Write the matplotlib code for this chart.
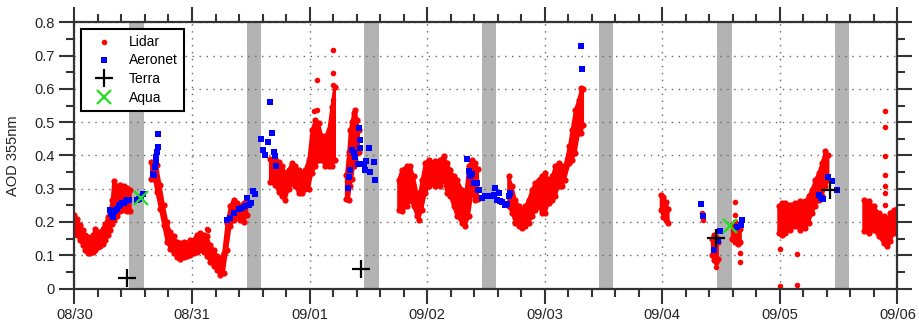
import numpy as np
import matplotlib.pyplot as plt
from matplotlib.ticker import MultipleLocator

plt.rcParams['font.family'] = ['Liberation Sans', 'DejaVu Sans']

nan = np.nan

# time in days since 08/30 00:00 UTC
day_labels = ['08/30', '08/31', '09/01', '09/02', '09/03', '09/04', '09/05', '09/06']
aod_ticks = [0, 0.1, 0.2, 0.3, 0.4, 0.5, 0.6, 0.7, 0.8]

# shaded periods (start, end) in days
shade_start = [0.465, 1.465, 2.465, 3.465, 4.465, 5.465, 6.465]
shade_end = [0.59, 1.59, 2.59, 3.585, 4.58, 5.59, 6.59]

# lidar AOD envelope (low / high of the retrievals), nan marks a gap
lidar_day = [0.0, 0.025, 0.049, 0.07, 0.092, 0.115, 0.134, 0.155, 0.177, 0.2, 0.219,
             0.24, 0.262, 0.285, 0.305, 0.32, 0.333, 0.361, 0.39, 0.418, 0.447, 0.475, nan,
             0.655, 0.68, 0.70, 0.73, 0.758, 0.787, 0.815, 0.843, 0.87, 0.9, 0.93, 0.957,
             0.985, 1.013, 1.04, 1.07, 1.1, 1.127, 1.155, 1.183, 1.212, 1.24, 1.268, 1.297,
             1.325, 1.354, 1.382, 1.41, 1.439, 1.467, nan,
             1.666, 1.708, 1.737, 1.765, 1.793, 1.822, 1.85, 1.878, 1.907, 1.935, 1.963,
             1.992, 2.02, 2.049, 2.077, 2.105, 2.134, 2.162, 2.19, 2.213, nan,
             2.312, 2.332, 2.346, 2.36, 2.374, 2.389, 2.403, 2.417, nan,
             2.757, 2.786, 2.828, 2.857, 2.885, 2.914, 2.927, 2.956, 2.984, 3.012, 3.041,
             3.069, 3.112, 3.14, 3.169, 3.197, 3.225, 3.254, 3.297, 3.325, 3.353, 3.381,
             3.41, 3.43, nan,
             3.693, 3.722, 3.75, 3.778, 3.807, 3.835, 3.863, 3.892, 3.92, 3.948, 3.977,
             4.005, 4.033, 4.062, 4.09, 4.118, 4.147, 4.17, 4.209, 4.232, 4.26, 4.289,
             4.312, 4.323, nan,
             4.99, 5.01, 5.03, 5.05, nan,
             5.425, 5.44, 5.455, 5.47, nan,
             5.595, 5.62, 5.645, 5.665, nan,
             5.99, 6.018, 6.047, 6.089, 6.132, 6.174, 6.217, 6.245, 6.273, 6.302, 6.33,
             6.358, 6.387, 6.41, nan,
             6.713, 6.755, 6.798, 6.84, 6.883, 6.911, 6.94, 6.968, 6.997]
lidar_lo = [0.17, 0.16, 0.145, 0.13, 0.115, 0.108, 0.107, 0.11, 0.117, 0.125, 0.127,
            0.135, 0.145, 0.16, 0.177, 0.195, 0.207, 0.217, 0.232, 0.237, 0.232, 0.232, nan,
            0.33, 0.33, 0.29, 0.24, 0.19, 0.14, 0.12, 0.107, 0.095, 0.09, 0.095, 0.097,
            0.1, 0.107, 0.11, 0.117, 0.11, 0.097, 0.08, 0.067, 0.057, 0.04, 0.047, 0.117,
            0.187, 0.207, 0.217, 0.207, 0.2, 0.22, nan,
            0.32, 0.31, 0.29, 0.277, 0.267, 0.30, 0.317, 0.307, 0.287, 0.287, 0.30,
            0.30, 0.347, 0.367, 0.387, 0.387, 0.367, 0.367, 0.367, 0.387, nan,
            0.27, 0.267, 0.307, 0.33, 0.367, 0.387, 0.407, 0.41, nan,
            0.237, 0.232, 0.247, 0.267, 0.247, 0.217, 0.207, 0.237, 0.287, 0.307, 0.317,
            0.307, 0.307, 0.327, 0.287, 0.277, 0.247, 0.217, 0.197, 0.187, 0.217, 0.287,
            0.267, 0.27, nan,
            0.247, 0.227, 0.197, 0.187, 0.182, 0.187, 0.197, 0.217, 0.237, 0.247, 0.227,
            0.227, 0.257, 0.267, 0.277, 0.307, 0.307, 0.327, 0.377, 0.387, 0.407, 0.467,
            0.467, 0.49, nan,
            0.235, 0.215, 0.205, 0.197, nan,
            0.10, 0.085, 0.08, 0.09, nan,
            0.15, 0.14, 0.135, 0.14, nan,
            0.167, 0.162, 0.167, 0.177, 0.187, 0.177, 0.182, 0.197, 0.227, 0.247, 0.267,
            0.277, 0.307, 0.327, nan,
            0.172, 0.167, 0.177, 0.157, 0.137, 0.127, 0.142, 0.167, 0.18]
lidar_hi = [0.22, 0.21, 0.19, 0.175, 0.16, 0.155, 0.152, 0.16, 0.178, 0.17, 0.168,
            0.18, 0.195, 0.215, 0.237, 0.265, 0.322, 0.307, 0.312, 0.307, 0.302, 0.297, nan,
            0.38, 0.38, 0.37, 0.31, 0.25, 0.20, 0.17, 0.157, 0.14, 0.137, 0.14, 0.137,
            0.145, 0.147, 0.16, 0.167, 0.16, 0.157, 0.13, 0.117, 0.097, 0.087, 0.107, 0.197,
            0.247, 0.267, 0.257, 0.247, 0.257, 0.257, nan,
            0.39, 0.39, 0.38, 0.367, 0.347, 0.357, 0.377, 0.367, 0.357, 0.347, 0.357,
            0.387, 0.477, 0.507, 0.497, 0.457, 0.457, 0.477, 0.547, 0.607, nan,
            0.34, 0.41, 0.477, 0.50, 0.527, 0.537, 0.507, 0.477, nan,
            0.327, 0.357, 0.367, 0.367, 0.337, 0.287, 0.267, 0.327, 0.377, 0.387, 0.377,
            0.382, 0.387, 0.397, 0.377, 0.357, 0.337, 0.327, 0.297, 0.277, 0.367, 0.387,
            0.377, 0.36, nan,
            0.337, 0.307, 0.267, 0.247, 0.237, 0.247, 0.267, 0.297, 0.317, 0.327, 0.337,
            0.347, 0.327, 0.337, 0.367, 0.377, 0.367, 0.367, 0.427, 0.477, 0.537, 0.567,
            0.602, 0.60, nan,
            0.282, 0.275, 0.26, 0.24, nan,
            0.15, 0.16, 0.155, 0.14, nan,
            0.19, 0.20, 0.19, 0.18, nan,
            0.247, 0.257, 0.257, 0.252, 0.257, 0.262, 0.262, 0.277, 0.297, 0.327, 0.347,
            0.377, 0.412, 0.40, nan,
            0.267, 0.262, 0.247, 0.227, 0.217, 0.207, 0.227, 0.237, 0.24]

# isolated lidar retrievals
lidar_pt_day = [1.13, 1.14, 2.04, 2.06, 2.063, 2.199, 2.2, 2.2, 2.2, 5.34, 5.35, 5.459,
                5.621, 5.621, 5.664, 5.664, 6.004, 6.004, 6.146, 6.146,
                6.897, 6.897, 6.897, 6.897, 6.897, 6.897, 6.897]
lidar_pt_aod = [0.18, 0.175, 0.535, 0.537, 0.627, 0.717, 0.647, 0.612, 0.567, 0.227, 0.205,
                0.065, 0.259, 0.222, 0.107, 0.079, 0.119, 0.007, 0.105, 0.01,
                0.535, 0.485, 0.399, 0.342, 0.307, 0.287, 0.252]

aeronet_day = [0.30, 0.31, 0.325, 0.345, 0.36, 0.375, 0.39, 0.405, 0.42, 0.435, 0.45, 0.465,
               0.535, 0.55, 0.565, 0.58, 0.665, 0.675, 0.685, 0.69, 0.695, 0.705, 0.71, 0.71,
               1.297, 1.325, 1.354, 1.396, 1.424, 1.453, 1.467, 1.481, 1.504, 1.518, 1.538,
               1.589, 1.6, 1.623, 1.646, 1.666, 1.68, 1.694, 1.708, 1.714,
               2.323, 2.332, 2.346, 2.36, 2.374, 2.389, 2.409, 2.417, 2.431, 2.431, 2.46,
               2.474, 2.482, 2.502, 2.516, 2.55, 2.559,
               3.339, 3.353, 3.367, 3.381, 3.395, 3.424, 3.43, 3.438, 3.466, 3.495, 3.523,
               3.552, 3.566, 3.58, 3.594, 3.608, 3.623, 3.637, 3.659, 3.68, 3.693, 3.707,
               4.312, 4.317,
               5.329, 5.343, 5.437, 5.471, 5.494, 5.636, 5.67, 5.678,
               6.33, 6.353, 6.37, 6.41, 6.444, 6.485]
aeronet_aod = [0.235, 0.225, 0.215, 0.232, 0.24, 0.248, 0.252, 0.256, 0.258, 0.262, 0.265, 0.267,
               0.265, 0.27, 0.275, 0.285, 0.345, 0.34, 0.365, 0.38, 0.395, 0.41, 0.425, 0.465,
               0.207, 0.212, 0.227, 0.239, 0.242, 0.247, 0.272, 0.252, 0.257, 0.294, 0.285,
               0.45, 0.417, 0.402, 0.44, 0.56, 0.467, 0.409, 0.397, 0.367,
               0.302, 0.335, 0.355, 0.415, 0.407, 0.395, 0.375, 0.482, 0.445, 0.421, 0.375,
               0.355, 0.382, 0.422, 0.349, 0.38, 0.325,
               0.389, 0.352, 0.337, 0.345, 0.317, 0.317, 0.295, 0.297, 0.272, 0.277, 0.279,
               0.277, 0.282, 0.302, 0.267, 0.287, 0.262, 0.26, 0.252, 0.255, 0.277, 0.287,
               0.729, 0.659,
               0.255, 0.219, 0.115, 0.142, 0.172, 0.185, 0.19, 0.205,
               0.282, 0.272, 0.269, 0.335, 0.324, 0.297]

terra_day = [0.447, 2.437, 5.459, 6.43]
terra_aod = [0.032, 0.059, 0.152, 0.297]

aqua_day = [0.566, 5.573]
aqua_aod = [0.272, 0.189]

fig = plt.figure(figsize=(9.19, 3.32), dpi=100)
ax = fig.add_axes([0.081, 0.131, 0.8955, 0.8017])

for s, e in zip(shade_start, shade_end):
    ax.axvspan(s, e, color='#b3b3b3', lw=0, zorder=1)

d = np.array(lidar_day)
lo = np.array(lidar_lo)
hi = np.array(lidar_hi)
ax.fill_between(d, lo, hi, facecolor='red', edgecolor='red', lw=2, zorder=2)
# dots along the band edges
ax.scatter(np.r_[d, d], np.r_[lo, hi], s=20, color='red', lw=0, zorder=2)
ax.scatter(lidar_pt_day, lidar_pt_aod, s=16, color='red', lw=0, zorder=2, label='Lidar')

ax.plot(aeronet_day, aeronet_aod, 's', color='blue', ms=4, mew=0, ls='none',
        zorder=3, label='Aeronet')
ax.plot(terra_day, terra_aod, '+', color='black', ms=13, mew=1.6, ls='none',
        zorder=4, label='Terra')
ax.plot(aqua_day, aqua_aod, 'x', color='#1ee01e', ms=9.5, mew=1.6, ls='none',
        zorder=5, label='Aqua')

ax.set_xlim(0, 7)
ax.set_ylim(0, 0.8)
ax.set_xticks(range(len(day_labels)))
ax.set_xticklabels(day_labels)
ax.xaxis.set_minor_locator(MultipleLocator(0.2))
ax.set_yticks(aod_ticks)
ax.set_yticklabels([f'{v:g}' for v in aod_ticks])
ax.yaxis.set_minor_locator(MultipleLocator(0.05))

ax.grid(which='major', color='#666666', linestyle=(0, (1, 4)), lw=1)
ax.tick_params(which='major', direction='out', length=11, width=1.5, color='#333333',
               top=True, right=True, labelsize=10.5, labelcolor='#222222', pad=3)
ax.tick_params(which='minor', direction='out', length=5.5, width=1.5, color='#333333',
               top=True, right=True)
for sp in ax.spines.values():
    sp.set_linewidth(1.6)
    sp.set_color('#333333')

ax.set_ylabel('AOD 355nm', fontsize=10.5, color='#222222')
ax.yaxis.set_label_coords(-0.066, 0.5)

leg = ax.legend(loc='upper left', bbox_to_anchor=(0.0075, 0.975), borderaxespad=0,
                fontsize=10, numpoints=1, scatterpoints=1, fancybox=False,
                framealpha=1, edgecolor='black', handlelength=2.5, handletextpad=0.6,
                labelspacing=0.35, borderpad=0.4)
leg.get_frame().set_linewidth(1.5)
leg.set_zorder(10)

fig.savefig('out.png', dpi=100)
